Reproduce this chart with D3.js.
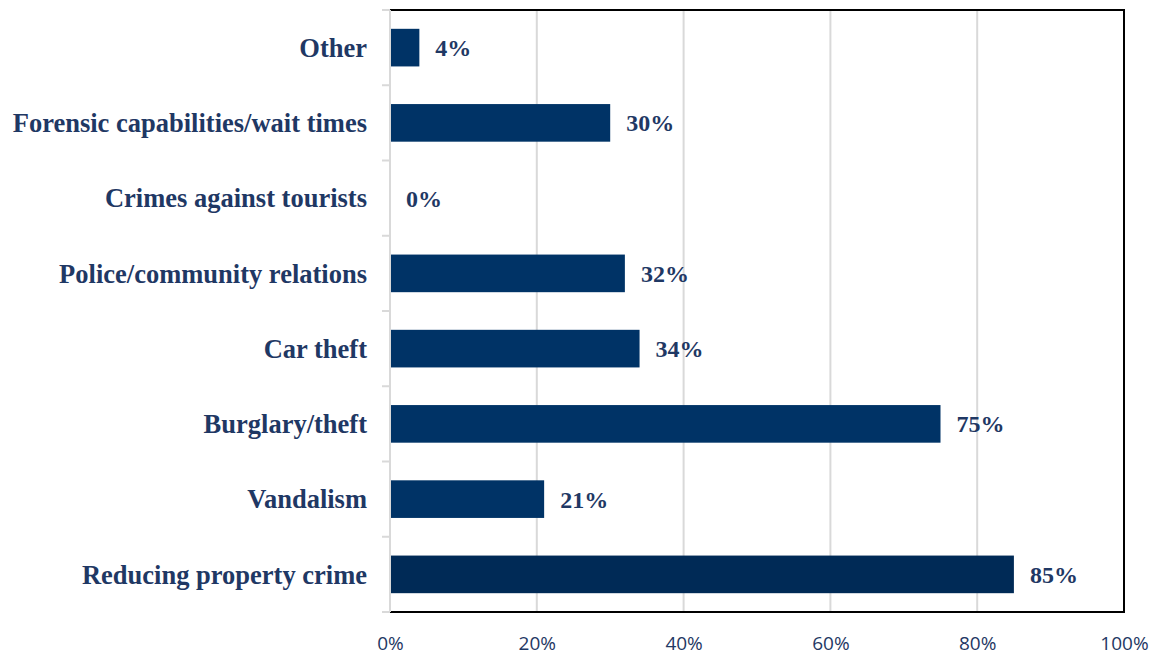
<!DOCTYPE html>
<html>
<head>
<meta charset="utf-8">
<script src="https://cdn.jsdelivr.net/npm/d3@7"></script>
<style>
  html, body { margin: 0; padding: 0; background: #ffffff; }
  svg { display: block; }
</style>
</head>
<body>
<svg id="chart" width="1162" height="656"></svg>
<script>
// Priority areas, top to bottom
const categories = [
  "Other",
  "Forensic capabilities/wait times",
  "Crimes against tourists",
  "Police/community relations",
  "Car theft",
  "Burglary/theft",
  "Vandalism",
  "Reducing property crime"
];
const values = [4, 30, 0, 32, 34, 75, 21, 85];
const tickValues = [0, 20, 40, 60, 80, 100];

const svg = d3.select("#chart");
const plot = { left: 390, right: 1124, top: 10, bottom: 612 };

const x = d3.scaleLinear().domain([0, 100]).range([plot.left, plot.right]);
const y = d3.scaleBand().domain(categories).range([plot.top, plot.bottom]).paddingInner(0.5).paddingOuter(0.25);

const textColor = "#1f3864";
const barColor = "#003366";
const highlightColor = "#002a56";
const serif = "'Liberation Serif', 'Times New Roman', serif";

// vertical gridlines
svg.append("g")
  .selectAll("line")
  .data(tickValues.filter(d => d > 0 && d < 100))
  .join("line")
  .attr("x1", d => x(d)).attr("x2", d => x(d))
  .attr("y1", plot.top).attr("y2", plot.bottom)
  .attr("stroke", "#d9d9d9").attr("stroke-width", 2);

// bars
svg.append("g")
  .selectAll("rect")
  .data(categories)
  .join("rect")
  .attr("x", x(0))
  .attr("y", d => y(d))
  .attr("width", (d, i) => x(values[i]) - x(0))
  .attr("height", y.bandwidth())
  .attr("fill", (d, i) => i === categories.length - 1 ? highlightColor : barColor);

// frame: black on top, right, bottom
svg.append("path")
  .attr("d", `M${plot.left},${plot.top}H${plot.right}V${plot.bottom}H${plot.left}`)
  .attr("fill", "none")
  .attr("stroke", "#000")
  .attr("stroke-width", 2);

// category axis (light grey with tick stubs at band boundaries)
const bounds = d3.range(categories.length + 1).map(i => plot.top + i * (plot.bottom - plot.top) / categories.length);
svg.append("line")
  .attr("x1", plot.left).attr("x2", plot.left)
  .attr("y1", plot.top).attr("y2", plot.bottom)
  .attr("stroke", "#d9d9d9").attr("stroke-width", 2);
svg.append("g")
  .selectAll("line")
  .data(bounds)
  .join("line")
  .attr("x1", plot.left - 8).attr("x2", plot.left)
  .attr("y1", d => d).attr("y2", d => d)
  .attr("stroke", "#d9d9d9").attr("stroke-width", 2);

// category labels
svg.append("g")
  .selectAll("text")
  .data(categories)
  .join("text")
  .attr("x", 367)
  .attr("y", d => y(d) + y.bandwidth() / 2)
  .attr("dy", "0.35em")
  .attr("text-anchor", "end")
  .attr("font-family", serif)
  .attr("font-weight", "bold")
  .attr("font-size", 26.5)
  .attr("fill", textColor)
  .text(d => d);

// value labels
svg.append("g")
  .selectAll("text")
  .data(categories)
  .join("text")
  .attr("x", (d, i) => x(values[i]) + 16)
  .attr("y", d => y(d) + y.bandwidth() / 2)
  .attr("dy", "0.35em")
  .attr("font-family", serif)
  .attr("font-weight", "bold")
  .attr("font-size", 24)
  .attr("fill", textColor)
  .text((d, i) => values[i] + "%");

// percentage axis
const xAxis = d3.axisBottom(x).tickValues(tickValues).tickSize(0).tickFormat(d => d + "%");
const gx = svg.append("g").attr("transform", `translate(0,${plot.bottom})`).call(xAxis);
gx.select(".domain").remove();
gx.selectAll("text")
  .attr("y", 31)
  .attr("dy", "0.35em")
  .attr("font-family", "'Open Sans', 'Liberation Sans', sans-serif")
  .attr("font-size", 19)
  .attr("fill", textColor);
</script>
</body>
</html>
